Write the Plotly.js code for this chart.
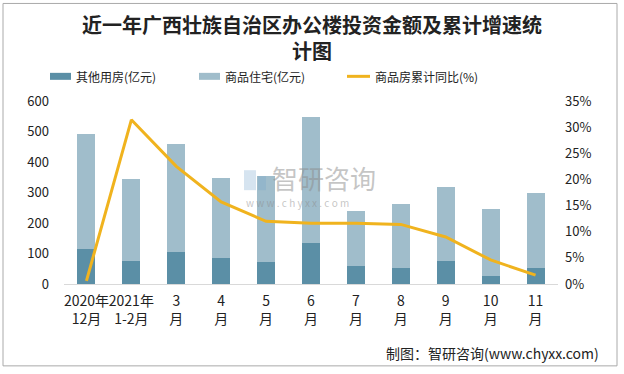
<!DOCTYPE html>
<html><head><meta charset="utf-8">
<script src="https://cdn.plot.ly/plotly-3.0.1.min.js"></script>
<style>body{margin:0;padding:0;background:#fff}#chart{width:624px;height:374px}</style>
</head><body><div id="chart"></div>
<script>
const categories = ["2020年<br>12月","2021年<br>1-2月","3<br>月","4<br>月","5<br>月","6<br>月","7<br>月","8<br>月","9<br>月","10<br>月","11<br>月"];
const otherValues = [115, 75, 105, 85, 72, 134, 59, 52, 75, 26, 52];
const residentialValues = [376, 269, 353, 262, 282, 413, 180, 210, 243, 219, 246];
const growthValues = [0.6, 31.4, 22.5, 15.7, 12.0, 11.6, 11.6, 11.4, 9.0, 4.6, 1.7];

const font = "'Noto Sans CJK SC', 'Noto Sans', sans-serif";
const cDark = "#5b8fa6", cLight = "#a0bdcb", cLine = "#f0b31e";

// pixel helpers for paper coords
const L = 64, R = 558, T = 100.7, B = 284;
const px = x => (x - L) / (R - L);
const py = y => (B - y) / (B - T);

const traces = [
  {type:"bar", name:"其他用房(亿元)", x:categories, y:otherValues, marker:{color:cDark}, showlegend:false, hoverinfo:"y"},
  {type:"bar", name:"商品住宅(亿元)", x:categories, y:residentialValues, marker:{color:cLight}, showlegend:false, hoverinfo:"y"},
  {type:"scatter", mode:"lines", name:"商品房累计同比(%)", x:categories, y:growthValues, yaxis:"y2", line:{color:cLine, width:3}, showlegend:false}
];

const annFont = {family:font, size:12, color:"#222"};
const wm = "rgba(140,140,140,0.5)";
const layout = {
  width:624, height:374,
  margin:{l:L, r:624-R, t:T, b:374-B, pad:0},
  paper_bgcolor:"#fff", plot_bgcolor:"#fff",
  barmode:"stack", bargap:0.6,
  title:{text:"<b>近一年广西壮族自治区办公楼投资金额及累计增速统<br>计图</b>", font:{family:font, size:20, color:"#222"}, x:0.5, xanchor:"center", y:1-33/374, yanchor:"middle", yref:"container"},
  xaxis:{showline:true, linecolor:"#d9d9d9", linewidth:1, ticks:"", showgrid:false, tickangle:0, tickfont:{family:font, size:14, color:"#222"}, ticklabelstandoff:4, fixedrange:true},
  yaxis:{range:[0,600], dtick:100, showgrid:false, zeroline:false, showline:false, ticks:"", tickfont:{family:font, size:13, color:"#222"}, ticklabelstandoff:14},
  yaxis2:{range:[0,35], dtick:5, ticksuffix:"%", overlaying:"y", side:"right", showgrid:false, zeroline:false, showline:false, ticks:"", tickfont:{family:font, size:13, color:"#222"}, ticklabelstandoff:6},
  shapes:[
    {type:"rect", xref:"paper", yref:"paper", x0:px(3), x1:px(617), y0:py(3), y1:py(366), line:{color:"#aaaaaa", width:1}, layer:"below"},
    {type:"rect", xref:"paper", yref:"paper", x0:px(50), x1:px(71), y0:py(79.5), y1:py(72.5), fillcolor:cDark, line:{width:0}},
    {type:"rect", xref:"paper", yref:"paper", x0:px(199), x1:px(220), y0:py(79.5), y1:py(72.5), fillcolor:cLight, line:{width:0}},
    {type:"line", xref:"paper", yref:"paper", x0:px(347), x1:px(370), y0:py(76), y1:py(76), line:{color:cLine, width:3}},
    // watermark logo blocks
    {type:"rect", xref:"paper", yref:"paper", x0:px(244), x1:px(256), y0:py(190), y1:py(170), fillcolor:"rgba(120,165,205,0.3)", line:{width:0}},
    {type:"rect", xref:"paper", yref:"paper", x0:px(258), x1:px(266), y0:py(190), y1:py(176), fillcolor:"rgba(120,165,205,0.3)", line:{width:0}}
  ],
  annotations:[
    {xref:"paper", yref:"paper", x:px(74), y:py(76), xanchor:"left", yanchor:"middle", text:"其他用房(亿元)", showarrow:false, font:annFont},
    {xref:"paper", yref:"paper", x:px(223), y:py(76), xanchor:"left", yanchor:"middle", text:"商品住宅(亿元)", showarrow:false, font:annFont},
    {xref:"paper", yref:"paper", x:px(373), y:py(76), xanchor:"left", yanchor:"middle", text:"商品房累计同比(%)", showarrow:false, font:annFont},
    {xref:"paper", yref:"paper", x:px(601), y:py(353), xanchor:"right", yanchor:"middle", text:"制图：智研咨询(www.chyxx.com)", showarrow:false, font:{family:font, size:14, color:"#222"}},
    {xref:"paper", yref:"paper", x:px(270), y:py(177), xanchor:"left", yanchor:"middle", text:"智研咨询", showarrow:false, font:{family:font, size:26, color:wm}},
    {xref:"paper", yref:"paper", x:px(244), y:py(202), xanchor:"left", yanchor:"middle", text:"w w w . c h y x x . c o m", showarrow:false, font:{family:font, size:10, color:wm}}
  ]
};
Plotly.newPlot("chart", traces, layout, {displayModeBar:false, staticPlot:true});
</script></body></html>
